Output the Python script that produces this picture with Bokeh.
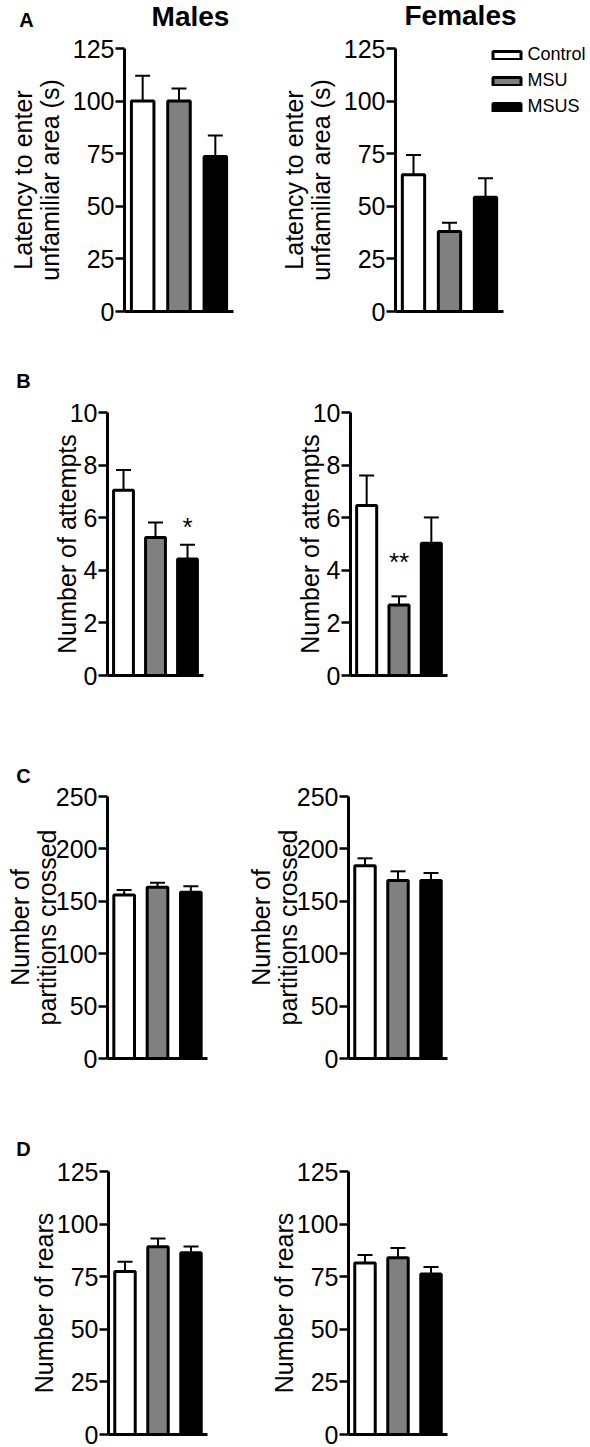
import math
from bokeh.plotting import figure
from bokeh.models import (Range1d, ColumnDataSource, Whisker, TeeHead, Label,
                          Legend, LegendItem, FixedTicker)
from bokeh.layouts import column, row
from bokeh.embed import file_html
from bokeh.resources import INLINE

# ---------------- data ----------------
groups = ["Control", "MSU", "MSUS"]
bar_colors = ["#ffffff", "#808080", "#000000"]
positions = [1, 2, 3]

latency_males = [100.0, 100.0, 73.7]
latency_males_sem = [12.0, 6.0, 10.0]
latency_females = [65.0, 38.0, 54.3]
latency_females_sem = [9.4, 4.2, 9.0]

attempts_males = [7.04, 5.25, 4.43]
attempts_males_sem = [0.77, 0.57, 0.54]
attempts_females = [6.46, 2.68, 5.03]
attempts_females_sem = [1.14, 0.33, 0.98]

partitions_males = [156.0, 163.4, 158.6]
partitions_males_sem = [4.9, 4.4, 5.7]
partitions_females = [184.0, 169.8, 169.8]
partitions_females_sem = [7.0, 8.8, 7.2]

rears_males = [77.5, 89.2, 86.4]
rears_males_sem = [4.6, 4.0, 3.0]
rears_females = [81.5, 84.0, 76.3]
rears_females_sem = [3.8, 4.6, 3.3]

latency_ticks = [0, 25, 50, 75, 100, 125]
attempts_ticks = [0, 2, 4, 6, 8, 10]
partitions_ticks = [0, 50, 100, 150, 200, 250]
rears_ticks = [0, 25, 50, 75, 100, 125]

latency_label = ["Latency to enter", "unfamiliar area (s)"]
attempts_label = ["Number of attempts"]
partitions_label = ["Number of", "partitions crossed"]
rears_label = ["Number of rears"]

attempts_males_sig = ["", "", "*"]
attempts_females_sig = ["", "**", ""]

panel_letters = ["A", "B", "C", "D"]
sex_titles = ["Males", "Females"]

FONT = "Liberation Sans"
X0, X1 = 0.5, 3.5


def make_panel(means, sems, ticks, label_lines, label_offsets, g,
               sig=None, sig_gap=0, letter=None, letter_xy=None,
               header=None, header_xy=None, legend_xy=None):
    # g: figure box and axis box in page pixels
    fig_l, fig_r, fig_t, fig_b, ax_l, ax_r, ax_t, ax_b = g
    W = fig_r - fig_l
    H = fig_b - fig_t
    ytop = ticks[-1]
    sx = (ax_r - ax_l) / (X1 - X0)
    sy = (ax_b - ax_t) / ytop
    xr = Range1d(X0 - (ax_l - fig_l) / sx, X1 + (fig_r - ax_r) / sx)
    yr = Range1d(0 - (fig_b - ax_b) / sy, ytop + (ax_t - fig_t) / sy)

    def dx(X):
        return X0 + (X - ax_l) / sx

    def dy(Y):
        return ytop - (Y - ax_t) / sy

    p = figure(frame_width=W, frame_height=H,
               min_border_left=0, min_border_right=0,
               min_border_top=0, min_border_bottom=0,
               x_range=xr, y_range=yr,
               output_backend="svg", toolbar_location=None, title=None)
    p.grid.visible = False
    p.outline_line_color = None
    p.background_fill_color = "white"
    p.border_fill_color = "white"

    ya = p.yaxis[0]
    ya.fixed_location = X0
    ya.bounds = (0, ytop)
    ya.ticker = FixedTicker(ticks=ticks)
    ya.axis_line_width = 3
    ya.axis_line_color = "black"
    ya.major_tick_line_width = 2.5
    ya.major_tick_line_color = "black"
    ya.major_tick_out = 9
    ya.major_tick_in = 0
    ya.minor_tick_out = 0
    ya.minor_tick_in = 0
    ya.major_label_standoff = 1
    ya.major_label_text_font = FONT
    ya.major_label_text_font_size = "25px"
    ya.major_label_text_color = "black"

    xa = p.xaxis[0]
    xa.fixed_location = 0
    xa.bounds = (X0, X1)
    xa.ticker = FixedTicker(ticks=[])
    xa.axis_line_width = 3
    xa.axis_line_color = "black"
    xa.major_tick_out = 0
    xa.major_tick_in = 0
    xa.minor_tick_out = 0
    xa.minor_tick_in = 0
    xa.major_label_standoff = 0

    src = ColumnDataSource(dict(
        x=positions, top=means, color=bar_colors, label=groups,
        lower=means, upper=[m + s for m, s in zip(means, sems)],
    ))
    wk = Whisker(source=src, base="x", lower="lower", upper="upper",
                 dimension="height", line_width=2, line_color="black",
                 upper_head=TeeHead(size=15, line_width=2, line_color="black"),
                 lower_head=None)
    p.add_layout(wk)
    r = p.vbar(x="x", top="top", width=0.62, bottom=0, source=src,
               fill_color="color", line_color="black", line_width=3)

    # y-axis title lines (rotated)
    for text, off in zip(label_lines, label_offsets):
        p.add_layout(Label(x=dx(ax_l + off), y=ytop / 2, text=text,
                           angle=math.pi / 2, text_align="center",
                           text_baseline="middle", text_font=FONT,
                           text_font_size="25px", text_color="black"))

    if sig is not None:
        for xi, s, m, e in zip(positions, sig, means, sems):
            if s:
                p.add_layout(Label(x=xi, y=m + e + sig_gap / sy, text=s,
                                   text_align="center", text_baseline="middle",
                                   text_font=FONT, text_font_size="26px",
                                   text_color="black"))
    if letter is not None:
        p.add_layout(Label(x=dx(letter_xy[0]), y=dy(letter_xy[1]), text=letter,
                           text_align="center", text_baseline="middle",
                           text_font=FONT, text_font_style="bold",
                           text_font_size="20px", text_color="black"))
    if header is not None:
        p.add_layout(Label(x=dx(header_xy[0]), y=dy(header_xy[1]), text=header,
                           text_align="center", text_baseline="middle",
                           text_font=FONT, text_font_style="bold",
                           text_font_size="28px", text_color="black"))
    if legend_xy is not None:
        items = [LegendItem(label=gname, renderers=[r], index=i)
                 for i, gname in enumerate(groups)]
        lg = Legend(items=items,
                    location=(legend_xy[0] - fig_l, fig_b - legend_xy[1]),
                    glyph_width=35, glyph_height=10, spacing=5,
                    label_standoff=4, padding=0, margin=0,
                    border_line_color=None, background_fill_alpha=0,
                    label_text_font=FONT, label_text_font_size="18px",
                    label_text_color="black")
        p.add_layout(lg)
    return p


# geometry in page pixels:
# (fig_l, fig_r, fig_t, fig_b, axis_l, axis_r, axis_top, axis_bottom)
gA_m = (0, 260, 0, 340, 124, 233, 48, 311)
gA_f = (260, 590, 0, 340, 395, 503, 48, 311)
gB_m = (0, 250, 340, 720, 107, 203, 412, 675)
gB_f = (250, 590, 340, 720, 350, 447, 412, 675)
gC_m = (0, 240, 720, 1080, 107, 207, 796, 1058)
gC_f = (240, 590, 720, 1080, 348, 447, 796, 1058)
gD_m = (0, 240, 1080, 1447, 108, 207, 1171, 1434)
gD_f = (240, 590, 1080, 1447, 348, 447, 1171, 1434)

pA_m = make_panel(latency_males, latency_males_sem, latency_ticks, latency_label,
                  [-102, -75], gA_m, letter=panel_letters[0], letter_xy=(26, 19),
                  header=sex_titles[0], header_xy=(190, 16))
pA_f = make_panel(latency_females, latency_females_sem, latency_ticks, latency_label,
                  [-102, -75], gA_f, header=sex_titles[1], header_xy=(460, 15),
                  legend_xy=(488.5, 117))
pB_m = make_panel(attempts_males, attempts_males_sem, attempts_ticks, attempts_label,
                  [-41], gB_m, sig=attempts_males_sig, sig_gap=18,
                  letter=panel_letters[1], letter_xy=(23, 380))
pB_f = make_panel(attempts_females, attempts_females_sem, attempts_ticks, attempts_label,
                  [-41], gB_f, sig=attempts_females_sig, sig_gap=34)
pC_m = make_panel(partitions_males, partitions_males_sem, partitions_ticks,
                  partitions_label, [-88, -61], gC_m,
                  letter=panel_letters[2], letter_xy=(23, 775))
pC_f = make_panel(partitions_females, partitions_females_sem, partitions_ticks,
                  partitions_label, [-88, -61], gC_f)
pD_m = make_panel(rears_males, rears_males_sem, rears_ticks, rears_label,
                  [-65], gD_m, letter=panel_letters[3], letter_xy=(23, 1148))
pD_f = make_panel(rears_females, rears_females_sem, rears_ticks, rears_label,
                  [-65], gD_f)

layout = column(row(pA_m, pA_f), row(pB_m, pB_f), row(pC_m, pC_f), row(pD_m, pD_f))

open("out.html", "w").write(file_html(layout, INLINE))
